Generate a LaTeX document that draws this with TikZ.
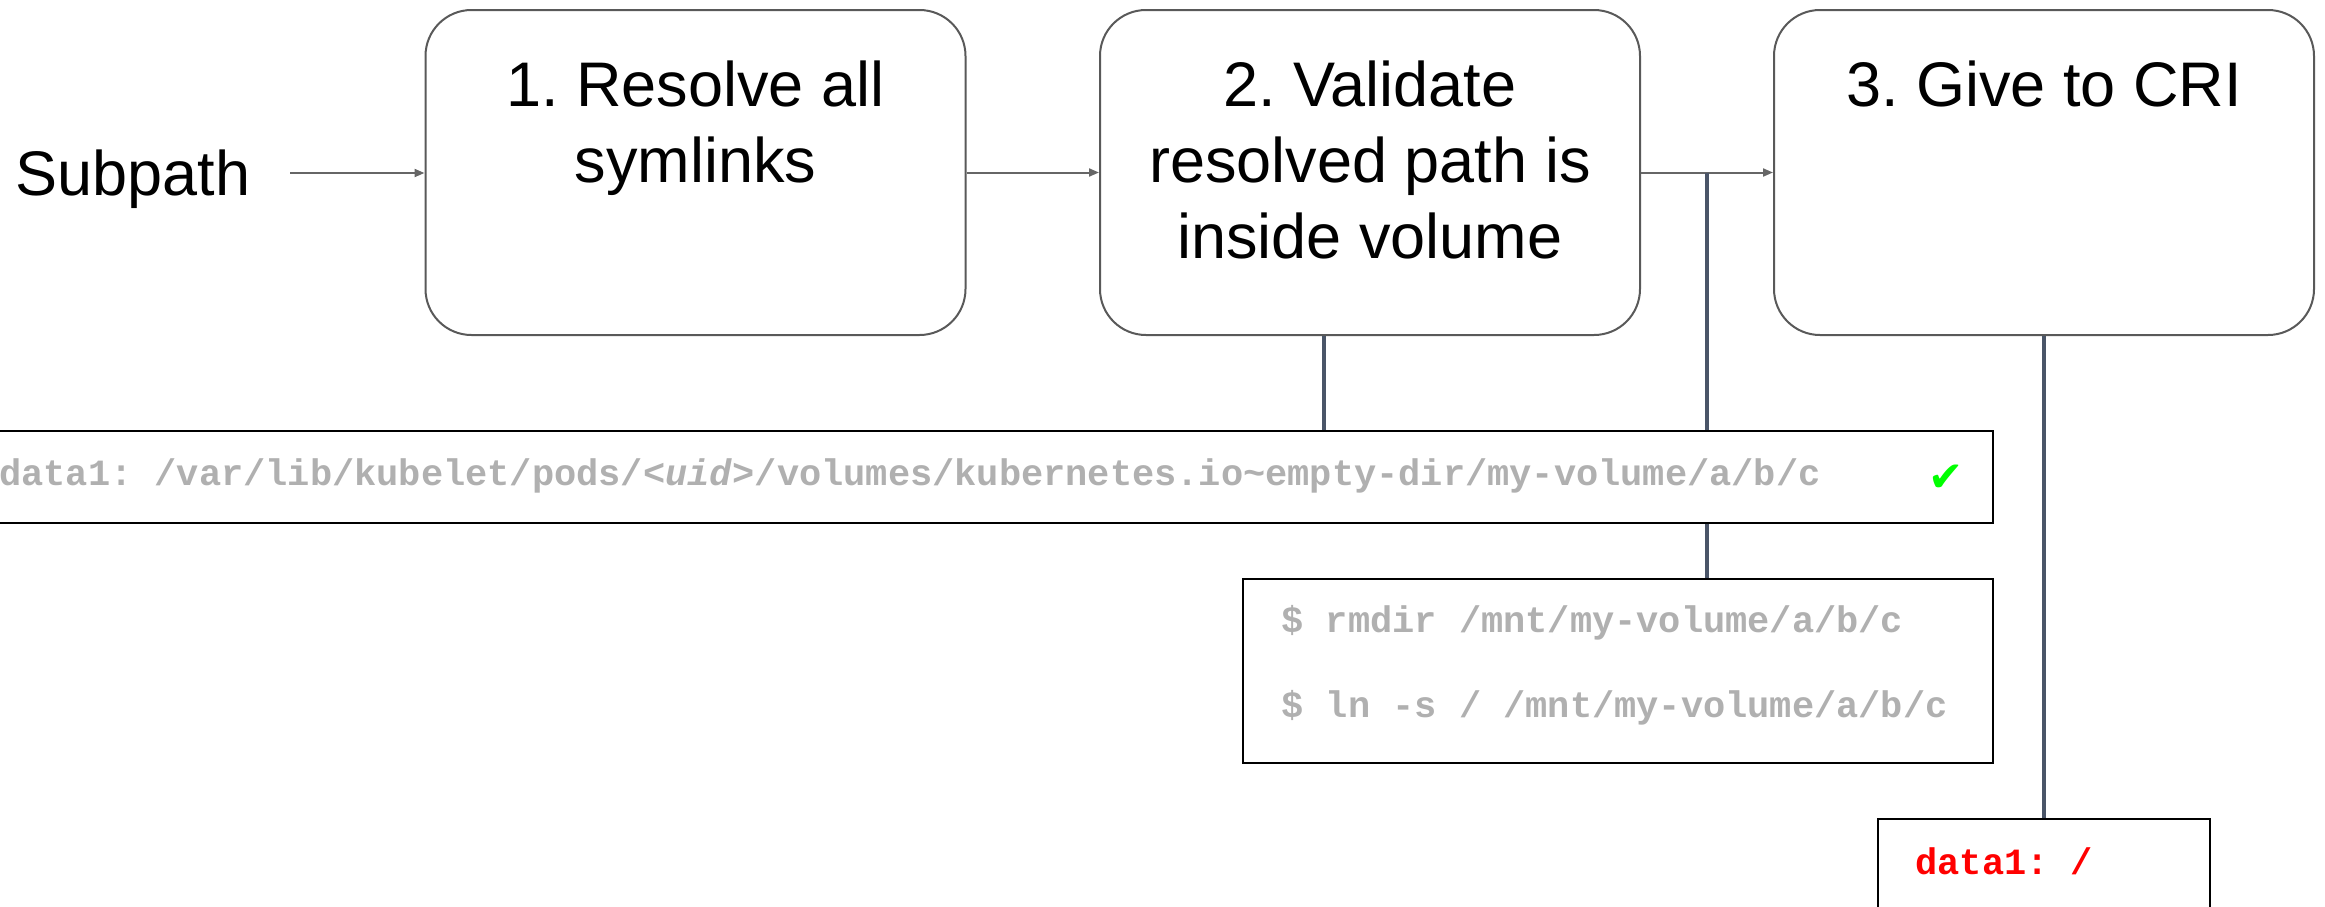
\documentclass[tikz,border=0pt]{standalone}
\usepackage{fontspec}
\setmainfont{Liberation Sans}
\newfontfamily\codefont{Liberation Mono}
\newfontfamily\symfont{DejaVu Sans}
\usetikzlibrary{arrows.meta,calc}
\definecolor{edgegray}{HTML}{666666}
\definecolor{boxgray}{HTML}{595959}
\definecolor{slate}{HTML}{4A5568}
\definecolor{codegray}{HTML}{B0B0B0}
\definecolor{alertred}{HTML}{FF0000}
\definecolor{okgreen}{HTML}{00FF00}
\frenchspacing
\begin{document}
\begin{tikzpicture}[x=0.5pt,y=-0.5pt,
  stage/.style={draw=boxgray, line width=1pt, rounded corners=23pt,
    minimum width=270pt, minimum height=162.5pt, inner sep=0pt},
  stagetext/.style={anchor=base, align=center, inner sep=0pt,
    font=\fontsize{31.5pt}{38pt}\selectfont},
  listing/.style={draw=black, line width=1.2pt, inner sep=0pt, fill=white},
  code/.style={inner sep=0pt, text=codegray,
    font=\codefont\bfseries\fontsize{18.5pt}{22pt}\selectfont},
  flow/.style={draw=edgegray, line width=1pt, -{Triangle[length=5pt,width=4pt]}},
  tie/.style={draw=slate, line width=1.6pt},
]
\useasboundingbox (0,0) rectangle (2325,906);
\clip (0,0) rectangle (2325,906);

% pipeline stages (text nodes sit on the baseline of their last line)
\node[stage] (b1) at (695.5,172.5) {};
\node[stage] (b2) at (1370,172.5) {};
\node[stage] (b3) at (2044,172.5) {};
\node[stagetext] (t1) at (695.5,182) {1. Resolve all\\symlinks};
\node[stagetext] (t2) at (1370,258) {2. Validate\\resolved path is\\inside volume};
\node[stagetext] (t3) at (2044,106) {3. Give to CRI};

\node[anchor=base, inner sep=0pt, font=\fontsize{31.5pt}{38pt}\selectfont]
  (sub) at (133,195) {Subpath};

% listings
\node[listing, minimum width=1006.5pt, minimum height=46pt] (lst1) at (986.5,477) {};
\node[code, anchor=base west] (lst1text) at (-1,485)
  {data1: /var/lib/kubelet/pods/<\textit{uid}>/volumes/kubernetes.io\textasciitilde empty-dir/my-volume/a/b/c};
\node[text=okgreen, inner sep=0pt, font=\symfont\fontsize{21pt}{24pt}\selectfont]
  (ok) at (1946,478) {✔};

\node[listing, minimum width=375pt, minimum height=92pt] (cmd) at (1618,671) {};
\node[code, anchor=base west, align=left,
  font=\codefont\bfseries\fontsize{18.5pt}{42.5pt}\selectfont]
  (cmdtext) at (1281,717) {\$ rmdir /mnt/my-volume/a/b/c\\\$ ln -s / /mnt/my-volume/a/b/c};

\node[listing, minimum width=166pt, minimum height=70.5pt] (red) at (2044,889.5) {};
\node[code, text=alertred, anchor=base west] (redtext) at (1915,874) {data1: /};

% connectors
\coordinate (src) at (290,173);
\draw[flow] (src) -- (src -| b1.west);
\draw[flow] (b1.east) -- (b2.west);
\draw[flow] (b2.east) -- (b3.west);
\coordinate (split) at (1707,172.5);
\draw[tie] (split) -- (split |- lst1.north);
\draw[tie] (split |- lst1.south) -- (split |- cmd.north);
\coordinate (tap) at ([xshift=-23pt]b2.south);
\draw[tie] (tap) -- (tap |- lst1.north);
\draw[tie] (b3.south) -- (red.north);
\end{tikzpicture}
\end{document}
